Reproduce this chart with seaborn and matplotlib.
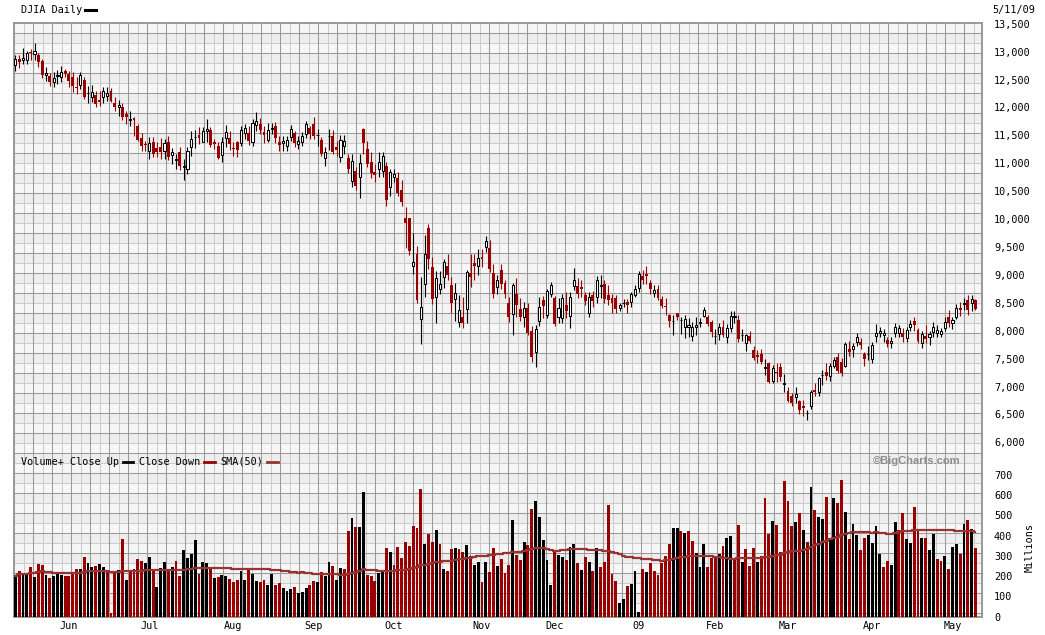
import numpy as np
import pandas as pd
import matplotlib
matplotlib.use('Agg')
import matplotlib.pyplot as plt
import seaborn as sns
from matplotlib.lines import Line2D

# daily DJIA candles, 2008-05-12 .. 2009-05-11
opens = [12757, 12870, 12852, 12858, 12995, 12953, 12942, 12823, 12579, 12567,
         12448, 12561, 12537, 12656, 12596, 12537, 12370, 12400, 12495, 12257,
         12180, 12227, 12138, 12180, 12210, 12299, 12073, 12001, 12013, 11882,
         11781, 11805, 11662, 11448, 11347, 11228, 11388, 11269, 11287, 11216,
         11388, 11144, 11061, 11198, 10930, 10900, 11287, 11465, 11513, 11388,
         11573, 11603, 11388, 11305, 11150, 11448, 11448, 11275, 11376, 11358,
         11541, 11536, 11375, 11684, 11702, 11565, 11417, 11613, 11667, 11387,
         11363, 11303, 11464, 11536, 11345, 11381, 11524, 11631, 11702, 11500,
         11417, 11095, 11488, 11494, 11297, 11119, 11315, 11095, 10690, 10869,
         10750, 11613, 11256, 11030, 10839, 10899, 10857, 10958, 10571, 10750,
         10738, 10524, 10018, 10018, 9160, 9369, 8202, 8845, 9845, 9142,
         8595, 8738, 8964, 9154, 8815, 8559, 8160, 8238, 8381, 9035,
         9220, 9166, 9315, 9500, 9488, 9041, 8785, 9095, 8851, 8488,
         8291, 8654, 8386, 8238, 8398, 7994, 7613, 8166, 8541, 8279,
         8666, 8577, 8238, 8220, 8458, 8267, 8803, 8797, 8785, 8636,
         8309, 8636, 8595, 8803, 8833, 8636, 8589, 8577, 8398, 8488,
         8518, 8518, 8636, 8773, 8976, 9023, 8857, 8678, 8755, 8565,
         8440, 8279, 8166, 8309, 8184, 8059, 8059, 7904, 8059, 8137,
         8261, 8250, 8160, 7898, 7940, 8071, 7893, 8042, 8244, 8190,
         7916, 7786, 7905, 7655, 7566, 7583, 7339, 7417, 7107, 7268,
         7345, 7042, 6928, 6821, 6809, 6732, 6643, 6518, 6643, 6940,
         6899, 7202, 7268, 7190, 7369, 7536, 7446, 7369, 7673, 7679,
         7804, 7804, 7583, 7577, 7488, 7905, 7952, 7922, 7833, 7774,
         7964, 7964, 7964, 7863, 8059, 8172, 8012, 7774, 7905, 7881,
         7982, 7952, 7940, 8042, 8238, 8143, 8250, 8398, 8482, 8547,
         8500, 8547]
highs = [12942, 12942, 13060, 13013, 13043, 13150, 12983, 12864, 12716, 12614,
         12626, 12668, 12745, 12686, 12656, 12626, 12537, 12626, 12537, 12388,
         12406, 12299, 12299, 12370, 12358, 12346, 12180, 12132, 12073, 11942,
         11942, 11835, 11704, 11537, 11406, 11466, 11466, 11376, 11454, 11436,
         11495, 11275, 11168, 11287, 11079, 11287, 11584, 11596, 11656, 11644,
         11793, 11644, 11436, 11376, 11466, 11686, 11585, 11376, 11406, 11674,
         11704, 11673, 11792, 11923, 11809, 11672, 11714, 11714, 11732, 11488,
         11494, 11494, 11678, 11583, 11494, 11553, 11750, 11673, 11821, 11613,
         11476, 11286, 11613, 11595, 11405, 11506, 11506, 11166, 11166, 10928,
         11166, 11631, 11405, 11196, 10988, 11196, 11196, 11018, 10899, 10899,
         10839, 10702, 10214, 10018, 9756, 9512, 8964, 9708, 9904, 9321,
         9071, 9071, 9291, 9369, 8964, 8857, 8636, 8607, 9095, 9381,
         9381, 9470, 9470, 9690, 9619, 9202, 8994, 9190, 8904, 8607,
         8863, 8952, 8577, 8517, 8488, 8083, 8101, 8607, 8619, 8755,
         8869, 8619, 8577, 8654, 8696, 8696, 9130, 8952, 8916, 8696,
         8696, 8714, 8976, 8994, 8904, 8815, 8666, 8636, 8488, 8559,
         8559, 8696, 8815, 9071, 9083, 9154, 8916, 8815, 8815, 8619,
         8577, 8297, 8279, 8321, 8238, 8279, 8220, 8160, 8250, 8220,
         8428, 8279, 8190, 8023, 8143, 8190, 8119, 8357, 8357, 8279,
         8030, 7940, 7994, 7726, 7655, 7667, 7488, 7447, 7387, 7428,
         7428, 7226, 6999, 6881, 6999, 6762, 6762, 6571, 6940, 7071,
         7179, 7298, 7417, 7428, 7536, 7595, 7506, 7804, 7816, 7786,
         7964, 7863, 7625, 7726, 7804, 8119, 8071, 8024, 7881, 7881,
         8143, 8101, 8042, 8071, 8190, 8250, 8042, 7999, 8101, 7999,
         8160, 8101, 8042, 8238, 8369, 8238, 8476, 8518, 8577, 8637,
         8637, 8559]
lows = [12644, 12704, 12787, 12775, 12846, 12846, 12716, 12519, 12477, 12388,
        12370, 12418, 12448, 12537, 12358, 12269, 12239, 12329, 12150, 12073,
        12090, 12001, 12031, 12073, 12120, 12091, 11942, 11852, 11775, 11704,
        11674, 11495, 11406, 11228, 11228, 11079, 11108, 11120, 11079, 11079,
        11061, 10990, 10900, 10870, 10700, 10810, 11138, 11275, 11347, 11376,
        11376, 11287, 11258, 11079, 11020, 11299, 11245, 11138, 11120, 11317,
        11434, 11327, 11315, 11583, 11524, 11357, 11387, 11524, 11369, 11226,
        11214, 11226, 11405, 11298, 11250, 11315, 11452, 11434, 11434, 11315,
        11137, 10958, 11238, 11166, 11137, 11018, 11166, 10827, 10571, 10512,
        10375, 11166, 10928, 10732, 10661, 10762, 10762, 10226, 10422, 10660,
        10422, 10226, 9482, 9351, 9012, 8488, 7755, 8607, 9113, 8476,
        8142, 8654, 8773, 8916, 8309, 8178, 8059, 8053, 8131, 8785,
        8904, 8994, 9143, 9410, 9053, 8577, 8654, 8755, 8577, 8160,
        7922, 8250, 8172, 8059, 7922, 7446, 7357, 8083, 8220, 8220,
        8595, 8083, 8131, 8142, 8220, 8053, 8726, 8577, 8595, 8458,
        8250, 8416, 8500, 8577, 8488, 8458, 8321, 8309, 8357, 8416,
        8321, 8428, 8607, 8696, 8845, 8845, 8666, 8607, 8547, 8398,
        8279, 8071, 7922, 8190, 7934, 7863, 7892, 7821, 7922, 8071,
        8238, 8083, 7892, 7761, 7833, 7881, 7786, 7982, 8131, 7804,
        7821, 7643, 7774, 7476, 7417, 7405, 7208, 7071, 7071, 7089,
        7107, 6893, 6714, 6643, 6702, 6512, 6464, 6405, 6595, 6821,
        6821, 7029, 7119, 7107, 7327, 7250, 7190, 7345, 7547, 7524,
        7726, 7667, 7369, 7476, 7428, 7804, 7881, 7804, 7702, 7684,
        7881, 7881, 7804, 7804, 8000, 8000, 7774, 7684, 7786, 7744,
        7881, 7881, 7881, 8000, 8071, 8024, 8202, 8262, 8369, 8280,
        8357, 8369]
closes = [12864, 12805, 12882, 12977, 12971, 13013, 12805, 12579, 12614, 12448,
          12519, 12584, 12626, 12596, 12477, 12376, 12352, 12584, 12180, 12263,
          12281, 12061, 12102, 12299, 12263, 12120, 12001, 12049, 11823, 11823,
          11799, 11781, 11424, 11317, 11329, 11365, 11168, 11198, 11198, 11365,
          11120, 11204, 11079, 10942, 10942, 11228, 11436, 11477, 11454, 11585,
          11620, 11323, 11347, 11097, 11388, 11567, 11347, 11257, 11245, 11603,
          11632, 11405, 11714, 11762, 11601, 11500, 11595, 11637, 11452, 11321,
          11399, 11422, 11613, 11357, 11405, 11488, 11702, 11524, 11482, 11506,
          11167, 11196, 11494, 11196, 11244, 11417, 11405, 10899, 11047, 10601,
          11006, 11357, 10988, 10821, 10797, 11018, 11137, 10333, 10839, 10809,
          10464, 10303, 9928, 9422, 9232, 8547, 8428, 9369, 9291, 8559,
          8952, 8833, 9232, 8994, 8500, 8678, 8369, 8143, 9053, 8964,
          9160, 9309, 9285, 9607, 9113, 8666, 8916, 8845, 8666, 8250,
          8815, 8458, 8250, 8398, 7952, 7523, 8023, 8416, 8446, 8708,
          8815, 8119, 8398, 8577, 8357, 8607, 8916, 8654, 8738, 8535,
          8607, 8535, 8904, 8815, 8565, 8547, 8500, 8381, 8458, 8494,
          8458, 8654, 8755, 9011, 8916, 8976, 8755, 8726, 8577, 8440,
          8416, 8178, 8178, 8250, 8190, 8202, 8101, 8071, 8101, 8149,
          8369, 8119, 7982, 7910, 8071, 7922, 8042, 8262, 8256, 7845,
          7928, 7922, 7815, 7506, 7524, 7447, 7351, 7083, 7327, 7250,
          7167, 7054, 6732, 6702, 6869, 6583, 6607, 6530, 6910, 6904,
          7149, 7214, 7190, 7369, 7476, 7286, 7250, 7762, 7619, 7726,
          7893, 7744, 7488, 7589, 7744, 7964, 7994, 7964, 7762, 7821,
          8071, 8042, 7881, 8012, 8119, 8101, 7821, 7940, 7857, 7940,
          8060, 8012, 7994, 8160, 8143, 8190, 8398, 8369, 8494, 8369,
          8559, 8381]
# volume in millions
volumes = [199, 224, 208, 212, 244, 194, 262, 257, 208, 189,
           203, 212, 208, 199, 199, 216, 237, 237, 297, 267,
           244, 249, 262, 247, 224, 20, 216, 232, 382, 183,
           224, 237, 287, 277, 266, 297, 232, 148, 242, 270,
           224, 247, 277, 203, 327, 292, 312, 377, 212, 270,
           267, 242, 193, 198, 208, 203, 188, 169, 183, 227,
           183, 229, 212, 178, 173, 183, 158, 212, 158, 168,
           143, 128, 138, 149, 118, 123, 143, 156, 178, 173,
           222, 199, 270, 252, 183, 242, 237, 423, 486, 445,
           445, 614, 207, 203, 178, 214, 221, 338, 319, 257,
           342, 289, 367, 348, 446, 436, 630, 357, 406, 367,
           426, 357, 237, 227, 332, 337, 332, 320, 352, 302,
           257, 272, 173, 270, 222, 337, 249, 285, 216, 257,
           476, 305, 279, 367, 352, 531, 571, 491, 378, 282,
           158, 324, 307, 297, 279, 342, 357, 266, 232, 295,
           269, 224, 337, 246, 270, 551, 212, 178, 70, 88,
           154, 163, 227, 25, 237, 219, 266, 227, 204, 267,
           302, 357, 436, 440, 421, 411, 421, 372, 317, 247,
           357, 247, 290, 290, 312, 347, 387, 397, 292, 451,
           272, 332, 252, 337, 272, 302, 586, 406, 471, 451,
           320, 670, 571, 446, 466, 511, 428, 367, 640, 527,
           491, 481, 590, 391, 586, 561, 675, 516, 382, 456,
           402, 327, 387, 402, 362, 446, 312, 247, 277, 257,
           466, 426, 511, 382, 362, 541, 431, 387, 387, 327,
           406, 287, 277, 302, 237, 342, 357, 312, 456, 476,
           431, 337]

holidays = ['2008-05-26', '2008-07-04', '2008-09-01', '2008-11-27', '2008-12-25',
            '2009-01-01', '2009-01-19', '2009-02-16', '2009-04-10']
price_ticks = [6000, 6500, 7000, 7500, 8000, 8500, 9000, 9500, 10000,
               10500, 11000, 11500, 12000, 12500, 13000, 13500]
volume_ticks = [0, 100, 200, 300, 400, 500, 600, 700]

RED = '#990000'
SMA_COLOR = '#993333'

dates = pd.bdate_range('2008-05-12', '2009-05-11', freq='C', holidays=holidays)
df = pd.DataFrame({'date': dates, 'open': opens, 'high': highs, 'low': lows,
                   'close': closes, 'volume': volumes})
df['idx'] = np.arange(len(df))
df['up'] = df['close'] >= df['open']
df['vol_dir'] = np.where(df['close'].diff().fillna(1) >= 0, 'up', 'down')
df['sma'] = df['volume'].rolling(50, min_periods=1).mean()

# month labels at the first trading day of each month
first = df.groupby(df['date'].dt.to_period('M'))['idx'].min().iloc[1:]
month_pos = first.values
month_lab = ['09' if p.month == 1 else p.strftime('%b') for p in first.index]

plt.rcParams['font.family'] = ['DejaVu Sans Mono']
FS = 7.3
W, H = 1045, 635
L, R, T, MID, B = 14, 982.3, 22.7, 452.7, 616.7


def rect(x0, y0, x1, y1):
    return [x0 / W, 1 - y1 / H, (x1 - x0) / W, (y1 - y0) / H]


def fxy(x, y):
    return x / W, 1 - y / H


fig = plt.figure(figsize=(W / 100, H / 100), dpi=100)

# background grid in pixel space
bg = fig.add_axes(rect(L, T, R, B), zorder=0)
bg.set_xlim(0, R - L)
bg.set_ylim(B - T, 0)
bg.set_facecolor('#eeeeee')
for y0 in np.arange(0, B - T, 20):
    bg.axhspan(y0, y0 + 10, color='#f6f6f6', lw=0)
for x in np.arange(9.8, R - L, 19):
    bg.axvline(x, color='#cccccc', lw=0.75)
for y in np.arange(20, B - T, 20):
    bg.axhline(y, color='#cccccc', lw=0.75)
for x in np.arange(0.3, R - L, 19):
    bg.axvline(x, color='#999999', lw=0.75)
for y in np.arange(10, B - T, 20):
    bg.axhline(y, color='#999999', lw=0.75)
bg.set_xticks([])
bg.set_yticks([])
for s in bg.spines.values():
    s.set_color('#999999')
    s.set_linewidth(1.4)

XLIM = (-0.36, 252.8)

# price panel
ax = fig.add_axes(rect(L, T, R, MID), zorder=2)
ax.patch.set_alpha(0)
up = df[df['up']]
dn = df[~df['up']]
ax.vlines(dn['idx'], dn['low'], dn['high'], color=RED, lw=0.8, zorder=2)
ax.vlines(up['idx'], up['low'], up['high'], color='black', lw=0.8, zorder=2)
ax.bar(dn['idx'], dn['open'] - dn['close'], bottom=dn['close'], width=0.75,
       color=RED, lw=0, zorder=3)
ax.bar(up['idx'], (up['close'] - up['open']).clip(lower=4), bottom=up['open'],
       width=0.55, facecolor='white', edgecolor='black', lw=0.75, zorder=3)
ax.set_xlim(*XLIM)
ax.set_ylim(5814, 13518)
ax.set_xticks([])
ax.yaxis.tick_right()
ax.set_yticks(price_ticks, labels=[f'{v:,}' for v in price_ticks])
ax.tick_params(axis='y', length=0, pad=8.4, labelsize=FS)
for s in ax.spines.values():
    s.set_visible(False)

# volume panel
axv = fig.add_axes(rect(L, MID, R, B), zorder=2)
axv.patch.set_alpha(0)
sns.barplot(data=df, x='idx', y='volume', hue='vol_dir',
            palette={'up': 'black', 'down': RED}, native_scale=True,
            width=0.75, dodge=False, saturation=1, linewidth=0,
            errorbar=None, legend=False, ax=axv)
sns.lineplot(x=df['idx'], y=df['sma'], color=SMA_COLOR, lw=1.6,
             drawstyle='steps-mid', ax=axv)
axv.set_xlim(*XLIM)
axv.set_ylim(0, 810)
axv.set_xlabel('')
axv.set_ylabel('')
axv.yaxis.tick_right()
axv.set_yticks(volume_ticks, labels=[str(v) for v in volume_ticks])
axv.set_xticks(month_pos, labels=month_lab)
axv.tick_params(axis='y', length=0, pad=8.4, labelsize=FS)
axv.tick_params(axis='x', length=0, pad=3.3, labelsize=FS)
for s in axv.spines.values():
    s.set_visible(False)

# header, legend and notes
fig.text(*fxy(20.7, 10), 'DJIA Daily', fontsize=FS, va='center', ha='left')
fig.add_artist(Line2D([85 / W, 96 / W], [1 - 10 / H] * 2, color='black', lw=2.2))
fig.text(*fxy(992, 10), '5/11/09', fontsize=FS, va='center', ha='left')

ly = 461.7
fig.text(*fxy(21, ly), 'Volume+ Close Up', fontsize=FS, va='center', ha='left')
fig.add_artist(Line2D([122.7 / W, 133.3 / W], [1 - ly / H] * 2, color='black', lw=2))
fig.text(*fxy(139, ly), 'Close Down', fontsize=FS, va='center', ha='left')
fig.add_artist(Line2D([204 / W, 215 / W], [1 - ly / H] * 2, color=RED, lw=2))
fig.text(*fxy(220, ly), 'SMA(50)', fontsize=FS, va='center', ha='left')
fig.add_artist(Line2D([266.7 / W, 277.7 / W], [1 - ly / H] * 2, color=SMA_COLOR, lw=2))

fig.text(*fxy(917, 461.5), '\u00a9BigCharts.com', fontsize=8, fontweight='bold',
         color='#8c8c8c', va='center', ha='center', family='Liberation Sans')
fig.text(*fxy(1030, 548), 'Millions', fontsize=FS, rotation=90,
         va='center', ha='center')

fig.savefig('out.png', dpi=100)
